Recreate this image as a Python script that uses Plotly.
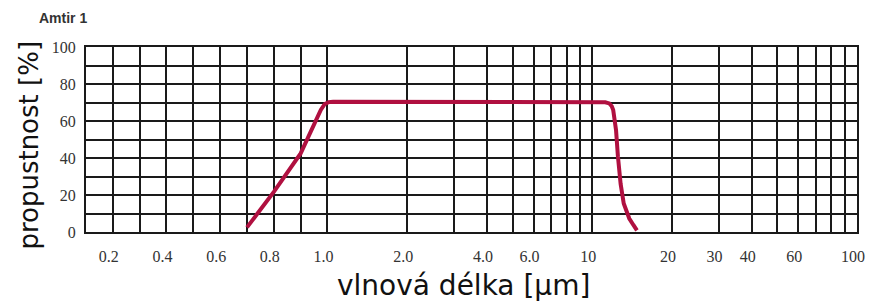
import math
import plotly.graph_objects as go

# ---- data ----
wavelength_um = [0.70, 0.80, 0.90, 0.95, 0.975, 0.99, 1.01, 1.05, 2.0, 5.0, 10.0,
                 11.2, 11.6, 11.85, 12.0, 12.3, 12.5, 12.8, 13.15, 13.5, 13.8, 14.3, 14.75]
transmission_pct = [2.5, 21.7, 42.5, 58, 66, 69.2, 70.2, 70.4, 70.4, 70.3, 70.2,
                    70.1, 69.5, 68, 66, 55, 41, 26, 15.4, 10.5, 7.3, 3.8, 0.9]

x_grid_values = [0.1, 0.2, 0.3, 0.4, 0.5, 0.6, 0.7, 0.8, 0.9, 1.0,
                 2, 3, 4, 5, 6, 7, 8, 9, 10, 20, 30, 40, 50, 60, 70, 80, 90, 100]
x_tick_labels = {0.2: "0.2", 0.4: "0.4", 0.6: "0.6", 0.8: "0.8", 1.0: "1.0",
                 2: "2.0", 4: "4.0", 6: "6.0", 10: "10", 20: "20", 30: "30",
                 40: "40", 60: "60", 100: "100"}
y_grid_values = [0, 10, 20, 30, 40, 50, 60, 70, 80, 90, 100]
y_tick_labels = {0: "0", 20: "20", 40: "40", 60: "60", 80: "80", 100: "100"}


# chart's own wavelength scale: linear 0.1-1.0, logarithmic 1-100
def scale(w):
    if w <= 1.0:
        return (w - 0.1) * 271.1
    return 244.0 + 267.5 * math.log10(w)


fig = go.Figure()
fig.add_trace(go.Scatter(
    x=[scale(w) for w in wavelength_um],
    y=transmission_pct,
    mode="lines",
    line=dict(color="#b01040", width=4),
    hoverinfo="skip",
))

tick_font = dict(family="Liberation Serif, Times New Roman, serif", size=16, color="#333333")

fig.update_xaxes(
    range=[scale(0.1), scale(100)],
    tickmode="array",
    tickvals=[scale(v) for v in x_grid_values],
    ticktext=[x_tick_labels.get(v, "") for v in x_grid_values],
    showgrid=True, gridcolor="#1a1a1a", gridwidth=1.8,
    showline=True, linecolor="#1a1a1a", linewidth=2, mirror=True,
    zeroline=False, ticks="", tickfont=tick_font,
    ticklabelshift=-4, ticklabelstandoff=9,
)
fig.update_yaxes(
    range=[0, 100],
    tickmode="array",
    tickvals=y_grid_values,
    ticktext=[y_tick_labels.get(v, "") for v in y_grid_values],
    showgrid=True, gridcolor="#1a1a1a", gridwidth=1.8,
    showline=True, linecolor="#1a1a1a", linewidth=2, mirror=True,
    zeroline=False, ticks="", tickfont=tick_font,
    ticklabelstandoff=5,
)

title_font = dict(family="DejaVu Sans, Verdana, sans-serif", color="#111111")
fig.add_annotation(text="vlnová délka [µm]", xref="paper", yref="paper",
                   x=0.489, y=-0.290, xanchor="center", yanchor="middle",
                   showarrow=False, font=dict(size=28, **title_font))
fig.add_annotation(text="propustnost [%]", xref="paper", yref="paper",
                   x=-0.0745, y=0.47, xanchor="center", yanchor="middle",
                   textangle=-90, showarrow=False, font=dict(size=26, **title_font))
fig.add_annotation(text="<b>Amtir 1</b>", xref="paper", yref="paper",
                   x=-0.064, y=1.159, xanchor="left", yanchor="middle",
                   showarrow=False,
                   font=dict(family="Liberation Sans, Arial, sans-serif", size=14, color="#333333"))

fig.update_layout(
    width=872, height=305,
    margin=dict(l=86, r=7, t=47, b=73),
    paper_bgcolor="white", plot_bgcolor="white",
    showlegend=False,
)

fig.write_html("out.html", config={"displayModeBar": False},
               post_script="document.body.style.margin='0';")
